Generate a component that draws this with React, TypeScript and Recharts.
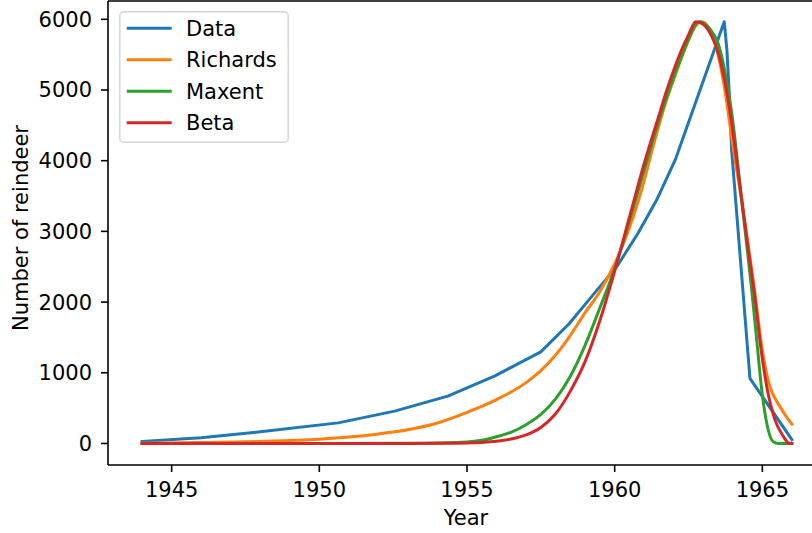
import { LineChart, Line, XAxis, YAxis, ReferenceLine } from "recharts";

// St. Matthew Island reindeer counts
const DATA_YEARS = [1944, 1946, 1948, 1950.64, 1952.55, 1954.35, 1955.93, 1957.5, 1958.45, 1959.4, 1960.07, 1960.8, 1961.42, 1962.05, 1963.71, 1963.8, 1963.89, 1963.96, 1964.58, 1966];
const DATA_COUNTS = [29, 80, 165, 291, 457, 669, 952, 1296, 1690, 2169, 2499, 2980, 3443, 4010, 5966, 5565, 4858, 4150, 920, 55];

const RICH_YEARS = [1944, 1946, 1948, 1950, 1951, 1952, 1953, 1954, 1955, 1956, 1957, 1957.5, 1958, 1958.5, 1959, 1959.5, 1960, 1960.5, 1961, 1961.25, 1961.5, 1961.75, 1962, 1962.25, 1962.5, 1962.75, 1962.93, 1963, 1963.25, 1963.5, 1963.75, 1964, 1964.25, 1964.5, 1964.75, 1964.98, 1965.11, 1965.26, 1965.43, 1965.6, 1965.8, 1966];
const RICH_VALUES = [3, 12, 28, 60, 90, 135, 195, 290, 440, 620, 860, 1030, 1250, 1530, 1850, 2150, 2540, 3050, 3720, 4120, 4500, 4850, 5150, 5440, 5700, 5910, 5966, 5960, 5830, 5500, 4950, 4220, 3560, 2870, 2130, 1367, 1061, 801, 637, 518, 386, 273];

const MAXENT_YEARS = [1944, 1950, 1953, 1954, 1955, 1955.5, 1956, 1956.5, 1957, 1957.5, 1958, 1958.5, 1959, 1959.5, 1960, 1960.5, 1961, 1961.5, 1962, 1962.25, 1962.5, 1962.75, 1962.87, 1963, 1963.25, 1963.5, 1963.75, 1964, 1964.25, 1964.5, 1964.64, 1964.81, 1964.98, 1965.15, 1965.37, 1965.54, 1966];
const MAXENT_VALUES = [0, 0, 2, 6, 20, 45, 95, 160, 265, 410, 630, 950, 1390, 1920, 2470, 3150, 3870, 4570, 5180, 5460, 5720, 5930, 5966, 5950, 5850, 5660, 5220, 4560, 3630, 2700, 2171, 1462, 754, 283, 23, 0, 0];

const BETA_YEARS = [1944, 1953, 1954, 1955, 1955.5, 1956, 1956.5, 1957, 1957.5, 1958, 1958.5, 1959, 1959.5, 1960, 1960.5, 1961, 1961.5, 1961.75, 1962, 1962.25, 1962.5, 1962.75, 1963, 1963.25, 1963.5, 1963.75, 1964, 1964.25, 1964.5, 1964.75, 1964.96, 1965.15, 1965.43, 1965.72, 1965.88, 1966];
const BETA_VALUES = [0, 0, 2, 6, 14, 30, 62, 120, 225, 420, 740, 1160, 1740, 2440, 3200, 3960, 4640, 4980, 5280, 5550, 5780, 5966, 5930, 5790, 5530, 5080, 4420, 3620, 2820, 2060, 1320, 801, 330, 94, 9, 0];

const X_TICKS = [1945, 1950, 1955, 1960, 1965];
const Y_TICKS = [0, 1000, 2000, 3000, 4000, 5000, 6000];
const SERIES_NAMES = ["Data", "Richards", "Maxent", "Beta"];
const SERIES_COLORS = ["#1f77b4", "#ff7f0e", "#2ca02c", "#d62728"];

const X_DOMAIN = [1942.845, 1967.155];
const Y_DOMAIN = [-305, 6259];

const FONT = "'DejaVu Sans', sans-serif";
const FONT_SIZE = 21;

const zip = (xs: number[], ys: number[]) => xs.map((year, i) => ({ year, v: ys[i] }));

const SERIES = [
  zip(DATA_YEARS, DATA_COUNTS),
  zip(RICH_YEARS, RICH_VALUES),
  zip(MAXENT_YEARS, MAXENT_VALUES),
  zip(BETA_YEARS, BETA_VALUES),
];

const XTitle = () => (
  <text x={466} y={525} textAnchor="middle" fontSize={FONT_SIZE} fontFamily={FONT} fill="#000">
    Year
  </text>
);

const YTitle = () => (
  <text
    x={28}
    y={228}
    transform="rotate(-90, 28, 228)"
    textAnchor="middle"
    fontSize={FONT_SIZE}
    fontFamily={FONT}
    fill="#000"
  >
    Number of reindeer
  </text>
);

function LegendBox() {
  return (
    <svg width={172} height={134} style={{ position: "absolute", left: 118, top: 10 }}>
      <rect x={1.75} y={1.75} width={168.5} height={130.5} rx={4} fill="#fff" fillOpacity={0.8} stroke="#d6d6d6" strokeWidth={1.5} />
      {SERIES_NAMES.map((name, i) => {
        const cy = 18.3 + i * 31.45;
        return (
          <g key={name}>
            <line x1={8.7} x2={53.7} y1={cy} y2={cy} stroke={SERIES_COLORS[i]} strokeWidth={3} />
            <text x={68} y={cy + 7.6} fontSize={FONT_SIZE} fontFamily={FONT} fill="#000">
              {name}
            </text>
          </g>
        );
      })}
    </svg>
  );
}

export default function App() {
  return (
    <div
      style={{
        position: "fixed",
        left: 0,
        top: 0,
        width: 812,
        height: 533,
        overflow: "hidden",
        background: "#fff",
      }}
    >
      <LineChart width={830} height={533} margin={{ top: 1, right: 4, bottom: 0, left: 0 }}>
        <XAxis
          type="number"
          dataKey="year"
          domain={X_DOMAIN}
          allowDataOverflow
          ticks={X_TICKS}
          interval={0}
          height={68}
          tickSize={7}
          tickMargin={10}
          axisLine={{ stroke: "#000", strokeWidth: 1.6 }}
          tickLine={{ stroke: "#000", strokeWidth: 1.6 }}
          tick={{ fill: "#000", fontSize: FONT_SIZE, fontFamily: FONT }}
          label={{ content: XTitle }}
        />
        <YAxis
          type="number"
          domain={Y_DOMAIN}
          allowDataOverflow
          ticks={Y_TICKS}
          interval={0}
          width={108}
          tickSize={7}
          tickMargin={9}
          axisLine={{ stroke: "#000", strokeWidth: 1.6 }}
          tickLine={{ stroke: "#000", strokeWidth: 1.6 }}
          tick={{ fill: "#000", fontSize: FONT_SIZE, fontFamily: FONT }}
          label={{ content: YTitle }}
        />
        <ReferenceLine y={Y_DOMAIN[1]} stroke="#000" strokeWidth={1.6} />
        {SERIES.map((pts, i) => (
          <Line
            key={SERIES_NAMES[i]}
            data={pts}
            dataKey="v"
            name={SERIES_NAMES[i]}
            type={i === 0 ? "linear" : "monotone"}
            stroke={SERIES_COLORS[i]}
            strokeWidth={3}
            strokeLinecap="square"
            strokeLinejoin="round"
            dot={false}
            activeDot={false}
            isAnimationActive={false}
          />
        ))}
      </LineChart>
      <LegendBox />
    </div>
  );
}
